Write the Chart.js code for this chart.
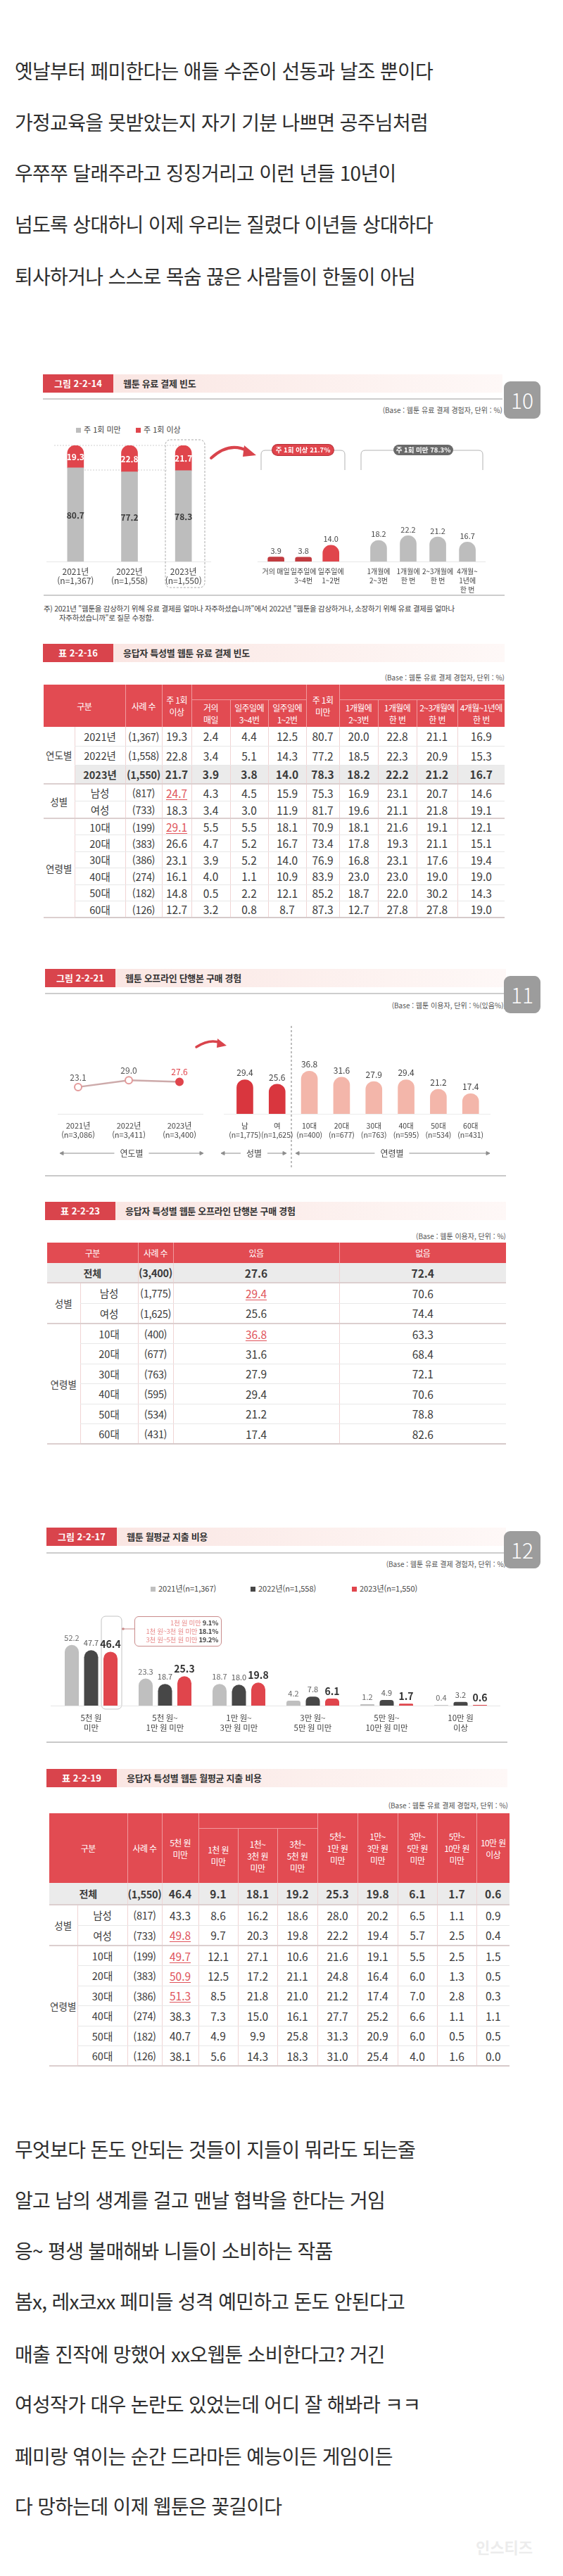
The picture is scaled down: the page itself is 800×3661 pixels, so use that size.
<!DOCTYPE html>
<html lang="ko">
<head>
<meta charset="utf-8">
<title>웹툰 유료 결제</title>
<script src="https://cdn.jsdelivr.net/npm/chart.js@4.4.0/dist/chart.umd.min.js"></script>
<style>
  html, body { margin: 0; padding: 0; background: #fff; }
  body { position: relative; width: 800px; height: 3661px; overflow: hidden;
         font-family: "Noto Sans CJK KR", "Noto Sans", sans-serif; }
  .post { position: absolute; left: 21px; font-size: 28px; line-height: 44px; letter-spacing: -0.7px;
          color: #2e2e2e; white-space: nowrap; z-index: 3; }
  .hd { position: absolute; height: 26px; z-index: 3; }
  .hd .lab { position: absolute; left: 0; top: 0; width: 100px; height: 26px; background: #d9444c; color: #fff;
             font-size: 13px; line-height: 26px; text-align: center; font-weight: bold; }
  .hd .tit { position: absolute; left: 100px; top: 0; right: 0; height: 26px; padding-left: 14px;
             background: linear-gradient(90deg, #fae6e3, #fdf3f1 70%, #fef8f7); color: #333;
             font-size: 13px; line-height: 26px; font-weight: bold; letter-spacing: -0.3px; }
  .uline { position: absolute; height: 2px; background: #cdcdcd; z-index: 3; }
  .base { position: absolute; font-size: 10px; line-height: 14px; color: #555; white-space: nowrap; z-index: 3; }
  .badge { position: absolute; width: 52px; height: 53px; background: #9c9c9c; border-radius: 9px; color: #fff;
           font-size: 30px; line-height: 53px; text-align: center; font-weight: 300; z-index: 4; }
  .txt { position: absolute; white-space: nowrap; z-index: 3; color: #444; }
  .leg { position: absolute; font-family: "Liberation Sans Narrow", "Noto Sans CJK KR", sans-serif;
         font-size: 11px; line-height: 14px; color: #444; white-space: nowrap; z-index: 3; }
  .leg i { display: inline-block; width: 7px; height: 7px; margin-right: 4px; vertical-align: 0; }
  .pill { position: absolute; height: 15px; border-radius: 8px; color: #fff; font-size: 9.5px; line-height: 15px;
          text-align: center; font-weight: bold; z-index: 3; white-space: nowrap; }
  canvas { position: absolute; z-index: 2; }
  svg.deco { position: absolute; left: 0; top: 0; z-index: 1; }
  table.tb { position: absolute; border-collapse: collapse; table-layout: fixed; z-index: 3;
             font-family: "Liberation Sans Narrow", "Noto Sans CJK KR", sans-serif; color: #3a3a3a; }
  table.tb th { background: #e24b52; color: #fff; font-family: "Noto Sans CJK KR", sans-serif; font-weight: normal;
                font-size: 12px; line-height: 17px; padding: 0; border-left: 1px solid #f09a9e; text-align: center;
                vertical-align: middle; letter-spacing: -0.6px; white-space: nowrap; }
  table.tb th.first { border-left: none; }
  table.tb th.blank { border-bottom: 1px solid #f09a9e; }
  table.tb td { padding: 0; text-align: center; vertical-align: middle; font-size: 15.5px;
                border-left: 1px solid #f0d4d4; border-bottom: 1px solid #e8e8e8; white-space: nowrap; }
  table.tb td.grp { border-left: none; font-family: "Noto Sans CJK KR", sans-serif; font-size: 13.5px; color: #444;
                    border-bottom: 2px solid #dccfcf; }
  table.tb td.lab { font-size: 14.5px; }
  table.tb td.num { font-size: 14.5px; letter-spacing: -0.3px; }
  table.tb td.all { border-left: none; font-family: "Noto Sans CJK KR", sans-serif; font-size: 14px; }
  table.tb tr.sec td { border-top: 2px solid #dccfcf; }
  table.tb tr.tot td { background: #ebebeb; font-weight: bold; }
  table.tb td.hl { color: #e0535a; text-decoration: underline; text-underline-offset: 2px; }
  table.tb tbody tr:last-child td { border-bottom: 2px solid #d6caca; }
</style>
</head>
<body>

<!-- 글 윗부분 -->
<div class="post" style="top:78px">옛날부터 페미한다는 애들 수준이 선동과 날조 뿐이다</div>
<div class="post" style="top:151px">가정교육을 못받았는지 자기 기분 나쁘면 공주님처럼</div>
<div class="post" style="top:223px">우쭈쭈 달래주라고 징징거리고 이런 년들 10년이</div>
<div class="post" style="top:296px">넘도록 상대하니 이제 우리는 질렸다 이년들 상대하다</div>
<div class="post" style="top:370px">퇴사하거나 스스로 목숨 끊은 사람들이 한둘이 아님</div>

<svg class="deco" width="800" height="3661" viewBox="0 0 800 3661">
  <!-- 그림 2-2-14 -->
  <line x1="77" y1="633" x2="258" y2="633" stroke="#cfcfcf" stroke-dasharray="2,2"/>
  <line x1="108" y1="668" x2="237" y2="668" stroke="#cfcfcf" stroke-dasharray="2,2"/>
  <line x1="66" y1="798.5" x2="300" y2="798.5" stroke="#e6e6e6"/>
  <line x1="366" y1="798.5" x2="690" y2="798.5" stroke="#e6e6e6"/>
  <rect x="235" y="625" width="56" height="210" rx="7" fill="none" stroke="#a9a9a9" stroke-dasharray="3,2"/>
  <path d="M300,651 Q326,627 352,641" stroke="#d9444c" stroke-width="4" fill="none" stroke-linecap="round"/>
  <polygon points="347,633 364,647 345,649" fill="#d9444c"/>
  <path d="M371,668 V646 Q371,640 377,640 H388 M473,640 H484 Q490,640 490,646 V668" stroke="#b3b3b3" fill="none"/>
  <path d="M513,668 V646 Q513,640 519,640 H560 M643,640 H680 Q686,640 686,646 V668" stroke="#b3b3b3" fill="none"/>
  <line x1="62" y1="846" x2="717" y2="846" stroke="#bdbdbd" stroke-width="1.5"/>
  <!-- 그림 2-2-21 -->
  <path d="M279,1488 Q298,1476 313,1482" stroke="#d9444c" stroke-width="3.5" fill="none" stroke-linecap="round"/>
  <polygon points="309,1476 322,1486 308,1489" fill="#d9444c"/>
  <line x1="414" y1="1458" x2="414" y2="1660" stroke="#7a7a7a" stroke-dasharray="3,3"/>
  <line x1="82" y1="1583.5" x2="289" y2="1583.5" stroke="#e6e6e6"/>
  <line x1="318" y1="1583.5" x2="697" y2="1583.5" stroke="#ececec"/>
  <g stroke="#8d8d8d" fill="#8d8d8d">
    <line x1="87" y1="1639" x2="287" y2="1639"/>
    <polygon points="85,1639 90,1636.5 90,1641.5"/><polygon points="289,1639 284,1636.5 284,1641.5"/>
    <line x1="316" y1="1639" x2="405" y2="1639"/>
    <polygon points="314,1639 319,1636.5 319,1641.5"/><polygon points="407,1639 402,1636.5 402,1641.5"/>
    <line x1="422" y1="1639" x2="694" y2="1639"/>
    <polygon points="420,1639 425,1636.5 425,1641.5"/><polygon points="696,1639 691,1636.5 691,1641.5"/>
  </g>
  <line x1="64" y1="1671" x2="719" y2="1671" stroke="#c9c9c9" stroke-width="2"/>
  <!-- 그림 2-2-17 -->
  <rect x="144" y="2297" width="29" height="132" rx="6" fill="none" stroke="#c4c4c4"/>
  <line x1="173" y1="2315" x2="191" y2="2315" stroke="#c98b8b"/>
  <circle cx="175" cy="2315" r="1.8" fill="#c98b8b"/>
  <line x1="72" y1="2424.5" x2="711" y2="2424.5" stroke="#e6e6e6"/>
  <line x1="66" y1="2476" x2="721" y2="2476" stroke="#c9c9c9" stroke-width="2"/>
</svg>

<!-- 그림 2-2-14 -->
<div class="hd" style="left:61px;top:532px;width:653px"><span class="lab">그림 2-2-14</span><span class="tit">웹툰 유료 결제 빈도</span></div>
<div class="uline" style="left:61px;top:566px;width:653px"></div>
<div class="base" style="right:86px;top:576px">(Base : 웹툰 유료 결제 경험자, 단위 : %)</div>
<div class="badge" style="left:716px;top:542px">10</div>
<div class="leg" style="left:108px;top:603px"><i style="background:#bdbdbd"></i>주 1회 미만</div>
<div class="leg" style="left:193px;top:603px"><i style="background:#e0454c"></i>주 1회 이상</div>
<div class="pill" style="left:387px;top:632px;width:87px;background:#e0454c;box-shadow:0 0 0 1px #b73038">주 1회 이상 21.7%</div>
<div class="pill" style="left:559px;top:632px;width:85px;background:#6a6a6a">주 1회 미만 78.3%</div>
<div class="txt" style="left:62px;top:858px;font-size:10.5px;line-height:13px;letter-spacing:-0.3px">주) 2021년 "웹툰을 감상하기 위해 유료 결제를 얼마나 자주하셨습니까"에서 2022년 "웹툰을 감상하거나, 소장하기 위해 유료 결제를 얼마나</div>
<div class="txt" style="left:84px;top:871px;font-size:10.5px;line-height:13px;letter-spacing:-0.3px">자주하셨습니까"로 질문 수정함.</div>

<!-- 표 2-2-16 -->
<div class="hd" style="left:61px;top:915px;width:656px"><span class="lab">표 2-2-16</span><span class="tit">응답자 특성별 웹툰 유료 결제 빈도</span></div>
<div class="base" style="right:83px;top:956px">(Base : 웹툰 유료 결제 경험자, 단위 : %)</div>
<table class="tb" id="t16" style="left:62px;top:973px;width:655px">
  <colgroup><col style="width:44px"><col style="width:72px"><col style="width:52px"><col style="width:42px"><col style="width:55px"><col style="width:54px"><col style="width:54px"><col style="width:47px"><col style="width:55px"><col style="width:55px"><col style="width:58px"><col style="width:67px"></colgroup>
  <thead>
    <tr style="height:21px"><th class="first" colspan="2" rowspan="2">구분</th><th rowspan="2">사례 수</th><th rowspan="2">주 1회<br>이상</th><th class="blank" colspan="3"></th><th rowspan="2">주 1회<br>미만</th><th class="blank" colspan="4"></th></tr>
    <tr style="height:39px"><th>거의<br>매일</th><th>일주일에<br>3~4번</th><th>일주일에<br>1~2번</th><th>1개월에<br>2~3번</th><th>1개월에<br>한 번</th><th>2~3개월에<br>한 번</th><th>4개월~1년에<br>한 번</th></tr>
  </thead>
  <tbody></tbody>
</table>

<!-- 그림 2-2-21 -->
<div class="hd" style="left:64px;top:1377px;width:655px"><span class="lab">그림 2-2-21</span><span class="tit">웹툰 오프라인 단행본 구매 경험</span></div>
<div class="uline" style="left:64px;top:1411px;width:655px"></div>
<div class="base" style="right:81px;top:1422px">(Base : 웹툰 이용자, 단위 : %(있음%))</div>
<div class="badge" style="left:716px;top:1387px">11</div>
<div class="txt" style="left:187px;top:1631px;transform:translateX(-50%);background:#fff;padding:0 8px;font-size:12px;line-height:16px">연도별</div>
<div class="txt" style="left:361px;top:1631px;transform:translateX(-50%);background:#fff;padding:0 8px;font-size:12px;line-height:16px">성별</div>
<div class="txt" style="left:557px;top:1631px;transform:translateX(-50%);background:#fff;padding:0 8px;font-size:12px;line-height:16px">연령별</div>

<!-- 표 2-2-23 -->
<div class="hd" style="left:64px;top:1708px;width:655px"><span class="lab">표 2-2-23</span><span class="tit">응답자 특성별 웹툰 오프라인 단행본 구매 경험</span></div>
<div class="base" style="right:81px;top:1750px">(Base : 웹툰 이용자, 단위 : %)</div>
<table class="tb" id="t23" style="left:67px;top:1766px;width:652px">
  <colgroup><col style="width:47px"><col style="width:82px"><col style="width:50px"><col style="width:236px"><col style="width:237px"></colgroup>
  <thead>
    <tr style="height:29px"><th class="first" colspan="2">구분</th><th>사례 수</th><th>있음</th><th>없음</th></tr>
  </thead>
  <tbody></tbody>
</table>

<!-- 그림 2-2-17 -->
<div class="hd" style="left:66px;top:2171px;width:653px"><span class="lab">그림 2-2-17</span><span class="tit">웹툰 월평균 지출 비용</span></div>
<div class="uline" style="left:66px;top:2206px;width:655px"></div>
<div class="base" style="right:81px;top:2216px">(Base : 웹툰 유료 결제 경험자, 단위 : %)</div>
<div class="badge" style="left:716px;top:2176px">12</div>
<div class="leg" style="left:214px;top:2250px"><i style="background:#bfbfbf"></i>2021년(n=1,367)</div>
<div class="leg" style="left:356px;top:2250px"><i style="background:#474747"></i>2022년(n=1,558)</div>
<div class="leg" style="left:500px;top:2250px"><i style="background:#e0454c"></i>2023년(n=1,550)</div>
<div class="txt" style="left:191px;top:2297px;width:118px;height:39px;padding:2px 4px 0 0;border:1.5px solid #c98b8b;border-radius:6px;background:#fff;text-align:right;font-size:9.5px;line-height:12px;color:#e88a8a;letter-spacing:-0.3px">
  1천 원 미만 <b style="color:#444">9.1%</b><br>1천 원~3천 원 미만 <b style="color:#444">18.1%</b><br>3천 원~5천 원 미만 <b style="color:#444">19.2%</b>
</div>

<!-- 표 2-2-19 -->
<div class="hd" style="left:66px;top:2514px;width:655px"><span class="lab">표 2-2-19</span><span class="tit">응답자 특성별 웹툰 월평균 지출 비용</span></div>
<div class="base" style="right:78px;top:2559px">(Base : 웹툰 유료 결제 경험자, 단위 : %)</div>
<table class="tb" id="t19" style="left:70px;top:2577px;width:654px">
  <colgroup><col style="width:40px"><col style="width:71px"><col style="width:49px"><col style="width:52px"><col style="width:56px"><col style="width:56px"><col style="width:57px"><col style="width:57px"><col style="width:57px"><col style="width:56px"><col style="width:56px"><col style="width:47px"></colgroup>
  <thead>
    <tr style="height:21px"><th class="first" colspan="2" rowspan="2">구분</th><th rowspan="2">사례 수</th><th rowspan="2">5천 원<br>미만</th><th class="blank" colspan="3"></th><th rowspan="2">5천~<br>1만 원<br>미만</th><th rowspan="2">1만~<br>3만 원<br>미만</th><th rowspan="2">3만~<br>5만 원<br>미만</th><th rowspan="2">5만~<br>10만 원<br>미만</th><th rowspan="2">10만 원<br>이상</th></tr>
    <tr style="height:78px"><th>1천 원<br>미만</th><th>1천~<br>3천 원<br>미만</th><th>3천~<br>5천 원<br>미만</th></tr>
  </thead>
  <tbody></tbody>
</table>

<!-- 글 아랫부분 -->
<div class="post" style="top:3032px">무엇보다 돈도 안되는 것들이 지들이 뭐라도 되는줄</div>
<div class="post" style="top:3104px">알고 남의 생계를 걸고 맨날 협박을 한다는 거임</div>
<div class="post" style="top:3176px">응~ 평생 불매해봐 니들이 소비하는 작품</div>
<div class="post" style="top:3248px">봄x, 레x코xx 페미들 성격 예민하고 돈도 안된다고</div>
<div class="post" style="top:3323px">매출 진작에 망했어 xx오웹툰 소비한다고? 거긴</div>
<div class="post" style="top:3394px">여성작가 대우 논란도 있었는데 어디 잘 해봐라 ㅋㅋ</div>
<div class="post" style="top:3468px">페미랑 엮이는 순간 드라마든 예능이든 게임이든</div>
<div class="post" style="top:3539px">다 망하는데 이제 웹툰은 꽃길이다</div>
<div class="txt" style="left:676px;top:3604px;font-size:22px;line-height:30px;color:#ececec;font-weight:bold">인스티즈</div>

<script>
// ---- 그림 2-2-14 웹툰 유료 결제 빈도 ----
const payYears = [['2021년', '(n=1,367)'], ['2022년', '(n=1,558)'], ['2023년', '(n=1,550)']];
const payUnderWeekly = [80.7, 77.2, 78.3];   // 주 1회 미만
const payWeekly = [19.3, 22.8, 21.7];        // 주 1회 이상
const weeklyCats = [['거의 매일'], ['일주일에', '3~4번'], ['일주일에', '1~2번']];
const weeklyVals = [3.9, 3.8, 14.0];
const monthlyCats = [['1개월에', '2~3번'], ['1개월에', '한 번'], ['2~3개월에', '한 번'], ['4개월~', '1년에', '한 번']];
const monthlyVals = [18.2, 22.2, 21.2, 16.7];

// ---- 그림 2-2-21 웹툰 오프라인 단행본 구매 경험 ----
const bookYears = [['2021년', '(n=3,086)'], ['2022년', '(n=3,411)'], ['2023년', '(n=3,400)']];
const bookYearVals = [23.1, 29.0, 27.6];
const bookCats = [['남', '(n=1,775)'], ['여', '(n=1,625)'], ['10대', '(n=400)'], ['20대', '(n=677)'],
                  ['30대', '(n=763)'], ['40대', '(n=595)'], ['50대', '(n=534)'], ['60대', '(n=431)']];
const bookVals = [29.4, 25.6, 36.8, 31.6, 27.9, 29.4, 21.2, 17.4];

// ---- 그림 2-2-17 웹툰 월평균 지출 비용 ----
const spendCats = [['5천 원', '미만'], ['5천 원~', '1만 원 미만'], ['1만 원~', '3만 원 미만'],
                   ['3만 원~', '5만 원 미만'], ['5만 원~', '10만 원 미만'], ['10만 원', '이상']];
const spend2021 = [52.2, 23.3, 18.7, 4.2, 1.2, 0.4];
const spend2022 = [47.7, 18.7, 18.0, 7.8, 4.9, 3.2];
const spend2023 = [46.4, 25.3, 19.8, 6.1, 1.7, 0.6];

// ---- 표 2-2-16 ----
const t16Groups = [['연도별', 3], ['성별', 2], ['연령별', 6]];
const t16Labels = ['2021년', '2022년', '2023년', '남성', '여성', '10대', '20대', '30대', '40대', '50대', '60대'];
const t16N = ['(1,367)', '(1,558)', '(1,550)', '(817)', '(733)', '(199)', '(383)', '(386)', '(274)', '(182)', '(126)'];
const t16Rows = [
  [19.3, 2.4, 4.4, 12.5, 80.7, 20.0, 22.8, 21.1, 16.9],
  [22.8, 3.4, 5.1, 14.3, 77.2, 18.5, 22.3, 20.9, 15.3],
  [21.7, 3.9, 3.8, 14.0, 78.3, 18.2, 22.2, 21.2, 16.7],
  [24.7, 4.3, 4.5, 15.9, 75.3, 16.9, 23.1, 20.7, 14.6],
  [18.3, 3.4, 3.0, 11.9, 81.7, 19.6, 21.1, 21.8, 19.1],
  [29.1, 5.5, 5.5, 18.1, 70.9, 18.1, 21.6, 19.1, 12.1],
  [26.6, 4.7, 5.2, 16.7, 73.4, 17.8, 19.3, 21.1, 15.1],
  [23.1, 3.9, 5.2, 14.0, 76.9, 16.8, 23.1, 17.6, 19.4],
  [16.1, 4.0, 1.1, 10.9, 83.9, 23.0, 23.0, 19.0, 19.0],
  [14.8, 0.5, 2.2, 12.1, 85.2, 18.7, 22.0, 30.2, 14.3],
  [12.7, 3.2, 0.8, 8.7, 87.3, 12.7, 27.8, 27.8, 19.0]
];

// ---- 표 2-2-23 ----
const t23Total = ['(3,400)', 27.6, 72.4];
const t23Groups = [['성별', 2], ['연령별', 6]];
const t23Labels = ['남성', '여성', '10대', '20대', '30대', '40대', '50대', '60대'];
const t23N = ['(1,775)', '(1,625)', '(400)', '(677)', '(763)', '(595)', '(534)', '(431)'];
const t23Rows = [[29.4, 70.6], [25.6, 74.4], [36.8, 63.3], [31.6, 68.4], [27.9, 72.1], [29.4, 70.6], [21.2, 78.8], [17.4, 82.6]];

// ---- 표 2-2-19 ----
const t19Total = ['(1,550)', 46.4, 9.1, 18.1, 19.2, 25.3, 19.8, 6.1, 1.7, 0.6];
const t19Groups = [['성별', 2], ['연령별', 6]];
const t19Labels = ['남성', '여성', '10대', '20대', '30대', '40대', '50대', '60대'];
const t19N = ['(817)', '(733)', '(199)', '(383)', '(386)', '(274)', '(182)', '(126)'];
const t19Rows = [
  [43.3, 8.6, 16.2, 18.6, 28.0, 20.2, 6.5, 1.1, 0.9],
  [49.8, 9.7, 20.3, 19.8, 22.2, 19.4, 5.7, 2.5, 0.4],
  [49.7, 12.1, 27.1, 10.6, 21.6, 19.1, 5.5, 2.5, 1.5],
  [50.9, 12.5, 17.2, 21.1, 24.8, 16.4, 6.0, 1.3, 0.5],
  [51.3, 8.5, 21.8, 21.0, 21.2, 17.4, 7.0, 2.8, 0.3],
  [38.3, 7.3, 15.0, 16.1, 27.7, 25.2, 6.6, 1.1, 1.1],
  [40.7, 4.9, 9.9, 25.8, 31.3, 20.9, 6.0, 0.5, 0.5],
  [38.1, 5.6, 14.3, 18.3, 31.0, 25.4, 4.0, 1.6, 0.0]
];

const RED = '#e0454c';
const NARROW = '"Liberation Sans Narrow", "Noto Sans CJK KR", sans-serif';

Chart.defaults.font.family = NARROW;
Chart.defaults.color = '#444';

// 막대/점 위에 값 쓰기
const valueLabels = {
  id: 'valueLabels',
  afterDatasetsDraw(chart, args, opts) {
    const ctx = chart.ctx;
    (opts.sets || []).forEach((cfg, di) => {
      if (!cfg) return;
      const ds = chart.data.datasets[di];
      chart.getDatasetMeta(di).data.forEach((el, i) => {
        const v = ds.data[i];
        if (v === null || v === undefined) return;
        ctx.save();
        ctx.font = cfg.font;
        ctx.fillStyle = Array.isArray(cfg.color) ? cfg.color[i] : cfg.color;
        ctx.textAlign = 'center';
        if (cfg.pos === 'center') {
          ctx.textBaseline = 'middle';
          ctx.fillText(v.toFixed(1), el.x, (el.y + el.base) / 2 + 1);
        } else {
          ctx.textBaseline = 'alphabetic';
          ctx.fillText(v.toFixed(1), el.x, el.y - cfg.offset);
        }
        ctx.restore();
      });
    });
  }
};

function place(left, top, width, height) {
  const c = document.createElement('canvas');
  c.width = width;
  c.height = height;
  c.style.left = left + 'px';
  c.style.top = top + 'px';
  c.style.width = width + 'px';
  c.style.height = height + 'px';
  document.body.appendChild(c);
  return c.getContext('2d');
}

// o.plotTop / o.plotH = 그림 영역, 아래 축 높이는 고정
function makeChart(o) {
  const h = o.padTop + o.plotH + o.axisH;
  const ctx = place(o.left, o.plotTop - o.padTop, o.width, h);
  return new Chart(ctx, {
    type: o.type || 'bar',
    data: o.data,
    plugins: [valueLabels],
    options: {
      responsive: false,
      animation: false,
      layout: { padding: { top: o.padTop, left: 0, right: 0, bottom: 0 } },
      plugins: { legend: { display: false }, tooltip: { enabled: false }, valueLabels: { sets: o.labels } },
      scales: {
        x: {
          offset: true,
          stacked: !!o.stacked,
          grid: { display: false, drawTicks: false },
          border: { display: false },
          ticks: { autoSkip: false, maxRotation: 0, padding: o.tickPad, color: '#444',
                   font: { size: o.tickSize || 12, lineHeight: 13.2 / (o.tickSize || 12) } },
          afterFit: s => { s.height = o.axisH; }
        },
        y: { display: false, min: 0, max: o.yMax, stacked: !!o.stacked }
      }
    }
  });
}

// 그림 2-2-14 : 연도별 누적 막대
makeChart({
  left: 69, width: 230, plotTop: 633, plotH: 165, padTop: 10, axisH: 50, tickPad: 7.5, yMax: 100, stacked: true,
  data: {
    labels: payYears,
    datasets: [
      { data: payUnderWeekly, backgroundColor: '#bdbdbd', barThickness: 23 },
      { data: payWeekly, backgroundColor: RED, barThickness: 23, borderRadius: 12 }
    ]
  },
  labels: [
    { pos: 'center', font: 'bold 12px ' + NARROW, color: '#3a3a3a' },
    { pos: 'center', font: 'bold 12px ' + NARROW, color: '#fff' }
  ]
});

// 주 1회 이상 세부
makeChart({
  left: 366, width: 129, plotTop: 633, plotH: 165, padTop: 10, axisH: 50, tickPad: 7.5, yMax: 100, tickSize: 10,
  data: { labels: weeklyCats, datasets: [{ data: weeklyVals, backgroundColor: ['#c23b40', '#c23b40', RED], barThickness: 23, borderRadius: 12 }] },
  labels: [{ offset: 4.5, font: '11px ' + NARROW, color: '#444' }]
});

// 주 1회 미만 세부
makeChart({
  left: 514, width: 172, plotTop: 633, plotH: 165, padTop: 10, axisH: 50, tickPad: 7.5, yMax: 100, tickSize: 10,
  data: { labels: monthlyCats, datasets: [{ data: monthlyVals, backgroundColor: '#bdbdbd', barThickness: 23, borderRadius: 12 }] },
  labels: [{ offset: 4.5, font: '11px ' + NARROW, color: '#444' }]
});

// 그림 2-2-21 : 연도별 선
makeChart({
  type: 'line',
  left: 68, width: 230, plotTop: 1517, plotH: 66, padTop: 24, axisH: 50, tickPad: 10.5, yMax: 40, tickSize: 11,
  data: {
    labels: bookYears,
    datasets: [{
      data: bookYearVals, borderColor: '#cdaaaa', borderWidth: 2.5, tension: 0,
      pointRadius: 5, pointBorderWidth: 2,
      pointBackgroundColor: ['#fff', '#fff', RED], pointBorderColor: ['#e39a9a', '#e39a9a', RED]
    }]
  },
  labels: [{ offset: 9, font: '12px ' + NARROW, color: ['#555', '#555', RED] }]
});

// 성별 / 연령별 막대
makeChart({
  left: 315, width: 382, plotTop: 1517, plotH: 66, padTop: 24, axisH: 50, tickPad: 10.5, yMax: 40, tickSize: 10.5,
  data: {
    labels: bookCats,
    datasets: [{
      data: bookVals, barThickness: 23, borderRadius: 12,
      backgroundColor: ['#d9363e', '#d9363e', '#f3b6aa', '#f3b6aa', '#f3b6aa', '#f3b6aa', '#f3b6aa', '#f3b6aa']
    }]
  },
  labels: [{ offset: 5, font: '12px ' + NARROW, color: '#444' }]
});

// 그림 2-2-17 : 연도별 묶음 막대
makeChart({
  left: 77, width: 630, plotTop: 2325, plotH: 99, padTop: 24, axisH: 50, tickPad: 11.5, yMax: 60, tickSize: 11.5,
  data: {
    labels: spendCats,
    datasets: [
      { data: spend2021, backgroundColor: '#bfbfbf', borderRadius: 10, categoryPercentage: 0.786, barPercentage: 0.727 },
      { data: spend2022, backgroundColor: '#474747', borderRadius: 10, categoryPercentage: 0.786, barPercentage: 0.727 },
      { data: spend2023, backgroundColor: RED, borderRadius: 10, categoryPercentage: 0.786, barPercentage: 0.727 }
    ]
  },
  labels: [
    { offset: 6, font: '11px ' + NARROW, color: '#666' },
    { offset: 6, font: '11px ' + NARROW, color: '#555' },
    { offset: 5, font: 'bold 14px ' + NARROW, color: '#333' }
  ]
});

// ---- 표 채우기 ----
const fmt = v => v.toFixed(1);

function fillTable(id, spec) {
  const tbody = document.querySelector('#' + id + ' tbody');
  let html = '';
  if (spec.total) {
    html += '<tr class="tot" style="height:' + spec.totalH + 'px"><td class="all" colspan="2">전체</td><td class="num">' +
      spec.total[0] + '</td>' + spec.total.slice(1).map(v => '<td>' + fmt(v) + '</td>').join('') + '</tr>';
  }
  let r = 0;
  spec.groups.forEach((g, gi) => {
    for (let k = 0; k < g[1]; k++, r++) {
      const cls = [];
      if (k === 0 && (gi > 0 || spec.total)) cls.push('sec');
      if (spec.boldRow === r) cls.push('tot');
      html += '<tr class="' + cls.join(' ') + '" style="height:' + spec.heights[gi] + 'px">';
      if (k === 0) html += '<td class="grp" rowspan="' + g[1] + '">' + g[0] + '</td>';
      html += '<td class="lab">' + spec.labels[r] + '</td><td class="num">' + spec.ns[r] + '</td>';
      spec.rows[r].forEach((v, c) => {
        const hl = spec.highlights.some(h => h[0] === r && h[1] === c);
        html += '<td' + (hl ? ' class="hl"' : '') + '>' + fmt(v) + '</td>';
      });
      html += '</tr>';
    }
  });
  tbody.innerHTML = html;
}

fillTable('t16', { groups: t16Groups, labels: t16Labels, ns: t16N, rows: t16Rows,
  heights: [27, 24.5, 23.5], boldRow: 2, highlights: [[3, 0], [5, 0]] });
fillTable('t23', { total: t23Total, totalH: 28, groups: t23Groups, labels: t23Labels, ns: t23N, rows: t23Rows,
  heights: [29, 28.5], highlights: [[0, 0], [2, 0]] });
fillTable('t19', { total: t19Total, totalH: 31, groups: t19Groups, labels: t19Labels, ns: t19N, rows: t19Rows,
  heights: [29, 28.5], highlights: [[1, 0], [2, 0], [3, 0], [4, 0]] });
</script>
</body>
</html>
